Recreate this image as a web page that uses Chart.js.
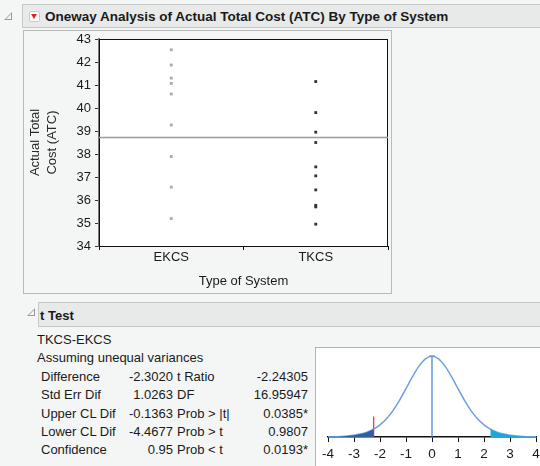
<!DOCTYPE html>
<html>
<head>
<meta charset="utf-8">
<script src="https://cdn.jsdelivr.net/npm/chart.js@4.4.1/dist/chart.umd.min.js"></script>
<style>
  html, body { margin: 0; padding: 0; }
  body {
    width: 540px; height: 466px; overflow: hidden; position: relative;
    background: #f4f6f6; font-family: Arial, "Liberation Sans", sans-serif; color: #1a1a1a;
  }
  .bar { position: absolute; background: #e8e9e9; border: 1px solid #c6c8c8; box-sizing: border-box; }
  .bar span { position: absolute; font-weight: bold; font-size: 13px; white-space: nowrap; }
  .tri { position: absolute; width: 0; height: 0; border-left: 8px solid transparent; border-bottom: 8px solid #9a9a9a; }
  .tri::after { content: ""; position: absolute; left: -6px; top: 2px; border-left: 5px solid transparent; border-bottom: 5px solid #f4f6f6; }
  .menu { position: absolute; width: 9px; height: 9px; background: #fff; border: 1px solid #c9c9c9; border-radius: 2px; }
  .menu::after { content: ""; position: absolute; left: 1px; top: 2px; border-left: 3.5px solid transparent; border-right: 3.5px solid transparent; border-top: 5px solid #e0202a; }
  .frame { position: absolute; border: 1px solid #b9bbbb; box-sizing: border-box; }
  .t { position: absolute; font-size: 13px; white-space: nowrap; line-height: 15px; }
  .r { text-align: right; }
  canvas { display: block; }
</style>
</head>
<body>

<div class="tri" style="left:4px; top:12px;"></div>
<div class="bar" style="left:22px; top:4px; width:530px; height:24px;">
  <span style="left:22px; top:4px; font-size:13.5px;">Oneway Analysis of Actual Total Cost (ATC) By Type of System</span>
</div>
<div class="menu" style="left:29px; top:11px;"></div>

<div class="frame" style="left:23px; top:30px; width:369px; height:264px;"></div>
<div style="position:absolute; left:23px; top:31px; width:369px; height:263px;">
  <canvas id="oneway" width="369" height="263"></canvas>
</div>

<div class="tri" style="left:27px; top:308px;"></div>
<div class="bar" style="left:38px; top:302px; width:514px; height:25px;">
  <span style="left:1px; top:5px;">t Test</span>
</div>

<div class="t" style="left:37px; top:332px;">TKCS-EKCS</div>
<div class="t" style="left:37px; top:350px;">Assuming unequal variances</div>
<div id="stats"></div>

<div style="position:absolute; left:315px; top:347px; width:260px; height:130px; border-left:1px solid #b0b2b2; border-top:1px solid #b0b2b2; background:#fff;">
  <canvas id="tdist" width="260" height="119"></canvas>
</div>

<script>
const groups = ['EKCS', 'TKCS'];
const ekcsCost = [42.53, 41.87, 41.30, 41.07, 40.61, 39.26, 37.89, 36.56, 35.19];
const tkcsCost = [41.15, 39.80, 38.95, 38.50, 37.44, 37.05, 36.44, 35.77, 35.70, 34.95];
const grandMean = 38.72;
const yTicks = [34, 35, 36, 37, 38, 39, 40, 41, 42, 43];

// t test report
const statLabels = ['Difference', 'Std Err Dif', 'Upper CL Dif', 'Lower CL Dif', 'Confidence'];
const statValues = ['-2.3020', '1.0263', '-0.1363', '-4.4677', '0.95'];
const testLabels = ['t Ratio', 'DF', 'Prob > |t|', 'Prob > t', 'Prob < t'];
const testValues = ['-2.24305', '16.95947', '0.0385*', '0.9807', '0.0193*'];

// t density (DF ~ 17) as drawn in the small plot
const tRatio = -2.243;
const tX = [-4, -3.75, -3.5, -3.25, -3, -2.75, -2.5, -2.25, -2.243, -2, -1.75, -1.5, -1.25, -1, -0.75, -0.5, -0.25,
            0, 0.25, 0.5, 0.75, 1, 1.25, 1.5, 1.75, 2, 2.243, 2.25, 2.5, 2.75, 3, 3.25, 3.5, 3.75, 4];
const tY = [0.0010, 0.0017, 0.0030, 0.0051, 0.0086, 0.0143, 0.0235, 0.0376, 0.0381, 0.0586, 0.0884, 0.1282, 0.1779, 0.2347, 0.2928, 0.3442, 0.3797,
            0.3925, 0.3797, 0.3442, 0.2928, 0.2347, 0.1779, 0.1282, 0.0884, 0.0586, 0.0381, 0.0376, 0.0235, 0.0143, 0.0086, 0.0051, 0.0030, 0.0017, 0.0010];
const tTicks = [-4, -3, -2, -1, 0, 1, 2, 3, 4];

// stats table
const rowTop = [369, 387, 406, 424, 442];
document.getElementById('stats').innerHTML = statLabels.map((lab, i) => `
  <div class="t" style="left:41px; top:${rowTop[i]}px;">${lab}</div>
  <div class="t r" style="left:110px; width:63px; top:${rowTop[i]}px;">${statValues[i]}</div>
  <div class="t" style="left:177px; top:${rowTop[i]}px;">${testLabels[i].replace('<', '&lt;').replace('>', '&gt;')}</div>
  <div class="t r" style="left:240px; width:68px; top:${rowTop[i]}px;">${testValues[i]}</div>
`).join('');

const plotFrame = {
    id: 'plotFrame',
    beforeDatasetsDraw(chart) {
        const a = chart.chartArea, c = chart.ctx;
        c.save();
        c.fillStyle = '#ffffff';
        c.fillRect(a.left, a.top, a.right - a.left, a.bottom - a.top);
        c.strokeStyle = '#111';
        c.lineWidth = 1;
        c.strokeRect(Math.round(a.left) + 0.5, Math.round(a.top) + 0.5, Math.round(a.right - a.left) - 1, Math.round(a.bottom - a.top));
        c.restore();
    }
};

new Chart(document.getElementById('oneway'), {
    type: 'line',
    data: {
        labels: groups,
        datasets: [
            {
                data: ekcsCost.map(v => ({ x: groups[0], y: v })),
                showLine: false, pointStyle: 'rect', pointRadius: 2,
                backgroundColor: '#a9a9a9', borderColor: '#a9a9a9', borderWidth: 0
            },
            {
                data: tkcsCost.map(v => ({ x: groups[1], y: v })),
                showLine: false, pointStyle: 'rect', pointRadius: 2,
                backgroundColor: '#333', borderColor: '#333', borderWidth: 0
            },
            {
                xAxisID: 'x2',
                data: [{ x: 0, y: grandMean }, { x: 1, y: grandMean }],
                borderColor: '#9a9a9a', borderWidth: 1.5, pointRadius: 0
            }
        ]
    },
    options: {
        responsive: false,
        animation: false,
        layout: { padding: { top: 8, right: 4, left: 0, bottom: 0 } },
        plugins: { legend: { display: false }, tooltip: { enabled: false } },
        scales: {
            x: {
                type: 'category',
                offset: true,
                grid: { offset: true, drawOnChartArea: false, tickLength: 4, color: '#111' },
                border: { color: '#111', width: 1 },
                ticks: { color: '#1a1a1a', font: { size: 13, family: 'Arial, "Liberation Sans"' }, padding: 0 },
                title: {
                    display: true, text: 'Type of System', color: '#1a1a1a',
                    font: { size: 13, family: 'Arial, "Liberation Sans"' }, padding: { top: 0, bottom: 5 }
                },
                afterFit(s) { s.height = 48; s.paddingLeft = 0; s.paddingRight = 0; }
            },
            x2: { type: 'linear', min: 0, max: 1, display: false },
            y: {
                min: 34, max: 43,
                afterBuildTicks(s) { s.ticks = yTicks.map(v => ({ value: v })); },
                grid: { drawOnChartArea: false, tickLength: 4, color: '#333' },
                border: { color: '#7d7d7d', width: 2 },
                ticks: { color: '#1a1a1a', font: { size: 13, family: 'Arial, "Liberation Sans"' }, padding: 4 },
                title: {
                    display: true, text: ['Actual Total', 'Cost (ATC)'], color: '#2a2a2a',
                    font: { size: 13, family: 'Arial, "Liberation Sans"', lineHeight: 1.3 }, padding: { top: 4, bottom: 0 }
                },
                afterFit(s) { s.width = 76; s.paddingTop = 0; s.paddingBottom = 0; }
            }
        }
    },
    plugins: [plotFrame]
});

const curve = tX.map((x, i) => ({ x, y: tY[i] }));
const peak = Math.max(...tY);

new Chart(document.getElementById('tdist'), {
    type: 'line',
    data: {
        datasets: [
            {
                data: curve.filter(p => p.x <= tRatio),
                fill: 'origin', backgroundColor: '#2f5f9f', borderWidth: 0, pointRadius: 0, tension: 0.3
            },
            {
                data: curve.filter(p => p.x >= -tRatio),
                fill: 'origin', backgroundColor: '#19a9d9', borderWidth: 0, pointRadius: 0, tension: 0.3
            },
            {
                data: curve,
                borderColor: '#6f9fdd', borderWidth: 1.5, pointRadius: 0, tension: 0.3
            },
            {
                data: [{ x: 0, y: 0 }, { x: 0, y: peak }, { x: -0.12, y: peak }, { x: 0.12, y: peak }],
                borderColor: '#3b7ed2', borderWidth: 1.2, pointRadius: 0
            },
            {
                data: [{ x: tRatio, y: 0 }, { x: tRatio, y: 0.1 }],
                borderColor: '#f0283c', borderWidth: 1.2, pointRadius: 0
            }
        ]
    },
    options: {
        responsive: false,
        animation: false,
        layout: { padding: { top: 2.5, left: 12, right: 40, bottom: 0 } },
        plugins: { legend: { display: false }, tooltip: { enabled: false } },
        scales: {
            x: {
                type: 'linear', min: -4, max: 4,
                afterBuildTicks(s) { s.ticks = tTicks.map(v => ({ value: v })); },
                grid: { drawOnChartArea: false, tickLength: 5, color: '#111' },
                border: { color: '#111', width: 1.5 },
                ticks: { color: '#1a1a1a', font: { size: 13.5, family: 'Arial, "Liberation Sans"' }, padding: 4 },
                afterFit(s) { s.height = 30; s.paddingLeft = 0; s.paddingRight = 0; }
            },
            y: { min: 0, max: 0.42, display: false }
        }
    }
});
</script>
</body>
</html>
